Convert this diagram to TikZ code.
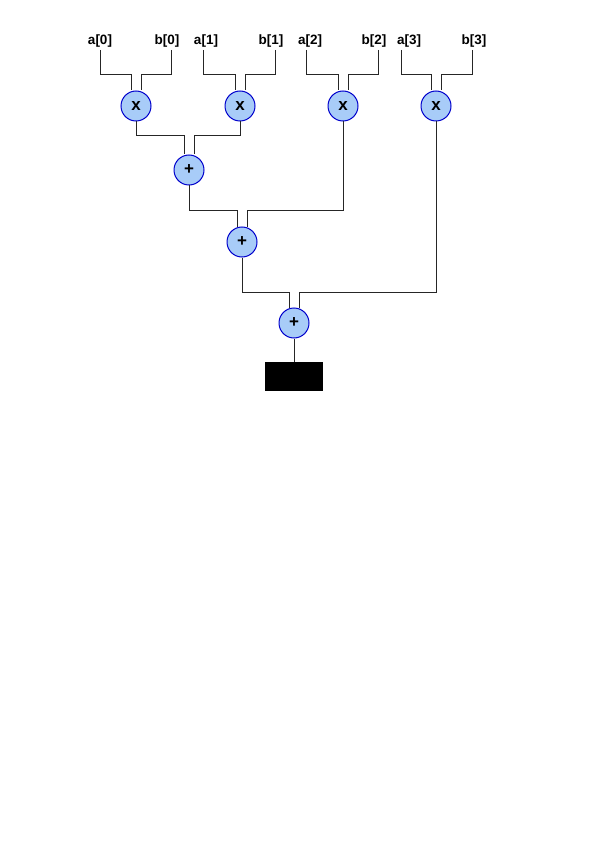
\documentclass[tikz,border=0pt]{standalone}
\usepackage{fontspec}
\setmainfont{Liberation Sans}
\begin{document}
\begin{tikzpicture}[x=1pt,y=-1pt,
  op/.style={circle,draw=blue!80!black,fill=opfill,line width=1pt,minimum size=30pt,inner sep=0pt,font=\bfseries\fontsize{17}{17}\selectfont},
  lbl/.style={font=\bfseries\fontsize{13.5}{13.5}\selectfont,inner sep=0pt,anchor=base},
  wire/.style={draw=black!85,line width=0.8pt}]
\definecolor{opfill}{HTML}{A8CCF8}
\useasboundingbox (0,0) rectangle (595,842);
% labels
\node[lbl] (a0) at (100,45) {a[0]};
\node[lbl] (b0) at (167,45) {b[0]};
\node[lbl] (a1) at (206,45) {a[1]};
\node[lbl] (b1) at (271,45) {b[1]};
\node[lbl] (a2) at (310,45) {a[2]};
\node[lbl] (b2) at (374,45) {b[2]};
\node[lbl] (a3) at (409,45) {a[3]};
\node[lbl] (b3) at (474,45) {b[3]};
% operators
\node[op] (m0) at (136,106) {x};
\node[op] (m1) at (240,106) {x};
\node[op] (m2) at (343,106) {x};
\node[op] (m3) at (436,106) {x};
\node[op] (s0) at (189,170) {+};
\node[op] (s1) at (242,242) {+};
\node[op] (s2) at (294,323) {+};
\node[draw=black,fill=black,minimum width=57pt,minimum height=28pt,inner sep=0pt] (out) at (294,376) {};
% wires to multipliers
\coordinate (a0s) at (100,50); \coordinate (b0s) at (171,50);
\coordinate (a1s) at (203,50); \coordinate (b1s) at (275,50);
\coordinate (a2s) at (306,50); \coordinate (b2s) at (378,50);
\coordinate (a3s) at (401,50); \coordinate (b3s) at (472,50);
\draw[wire] (a0s) |- (131,74) -- (m0.north -| 131,0);
\draw[wire] (b0s) |- (141,74) -- (m0.north -| 141,0);
\draw[wire] (a1s) |- (235,74) -- (m1.north -| 235,0);
\draw[wire] (b1s) |- (245,74) -- (m1.north -| 245,0);
\draw[wire] (a2s) |- (338,74) -- (m2.north -| 338,0);
\draw[wire] (b2s) |- (348,74) -- (m2.north -| 348,0);
\draw[wire] (a3s) |- (431,74) -- (m3.north -| 431,0);
\draw[wire] (b3s) |- (441,74) -- (m3.north -| 441,0);
% first adder
\draw[wire] (m0.south) |- (184,135) -- (s0.north -| 184,0);
\draw[wire] (m1.south) |- (194,135) -- (s0.north -| 194,0);
% second adder
\draw[wire] (s0.south) |- (237,210) -- (s1.north -| 237,0);
\draw[wire] (m2.south) |- (247,210) -- (s1.north -| 247,0);
% third adder
\draw[wire] (s1.south) |- (289,292) -- (s2.north -| 289,0);
\draw[wire] (m3.south) |- (299,292) -- (s2.north -| 299,0);
% output
\draw[wire] (s2.south) -- (out.north);
\end{tikzpicture}
\end{document}
